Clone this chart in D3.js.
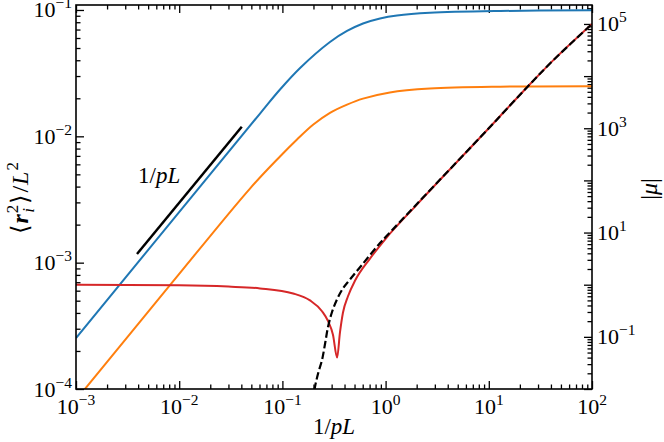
<!DOCTYPE html>
<html lang="en">
<head>
<meta charset="UTF-8">
<title>r_i^2 / L^2 and |mu| against 1/pL</title>
<script src="https://d3js.org/d3.v7.min.js"></script>
<style>
  body { margin: 0; background: #fff; }
  svg text { font-family: "Liberation Serif", "DejaVu Serif", serif; fill: #000; }
</style>
</head>
<body>
<div id="chart"></div>
<script>
// ticks
var xTicks = [1e-3, 1e-2, 1e-1, 1e0, 1e1, 1e2];
var leftTicks = [1e-4, 1e-3, 1e-2, 1e-1];
var rightTicks = [1e-2, 1e-1, 1e0, 1e1, 1e2, 1e3, 1e4, 1e5];
var rightLabelled = [1e-1, 1e1, 1e3, 1e5];

// <r_i^2>/L^2, left axis
var blueX = [0.001, 0.0607, 0.0948, 0.1484, 0.289, 0.423, 0.604, 0.883, 1.29, 2.69, 12.9, 100];
var blueY = [2.53e-4, 0.01515, 0.02347, 0.03475, 0.0558, 0.0682, 0.0782, 0.0857, 0.0905, 0.0950, 0.0982, 0.0995];
var orangeX = [0.001, 0.0081, 0.0485, 0.0948, 0.1385, 0.198, 0.289, 0.423, 0.604, 1.1, 2.69, 12.9, 100];
var orangeY = [8.2e-5, 6.6e-4, 0.00386, 0.00692, 0.00943, 0.01234, 0.01535, 0.01782, 0.01988, 0.02226, 0.02386, 0.0247, 0.0249];

// |mu|, right axis
var muX = [0.001, 0.01, 0.03, 0.0607, 0.127, 0.185, 0.242, 0.277, 0.309, 0.339, 0.361, 0.386, 0.432, 0.506, 0.7, 1.0, 2, 10, 24, 42, 100];
var muY = [1.0, 0.975, 0.92, 0.85, 0.68, 0.5, 0.31, 0.2, 0.11, 0.04, 0.12, 0.29, 0.6, 1.2, 3.1, 7.6, 34, 1000, 6400, 20000, 1e5];
var asymX = [0.198, 0.207, 0.222, 0.242, 0.26, 0.277, 0.301, 0.338, 0.386, 0.45, 0.6, 0.883, 1.0, 2, 10, 24, 42, 100];
var asymY = [0.006, 0.011, 0.02, 0.036, 0.077, 0.156, 0.29, 0.52, 0.85, 1.25, 2.5, 6.3, 8.2, 35, 1000, 6400, 20000, 1e5];

// 1/pL guide segment
var slopeX = [0.0039, 0.0404];
var slopeY = [0.00117, 0.0119];

var W = 664, H = 442;
// note: "top" is taken by window.top, so plain names for the frame edges
var x0 = 76, x1 = 592, y0 = 5, y1 = 389;

var svg = d3.select("#chart").append("svg").attr("width", W).attr("height", H);

var x = d3.scaleLog().domain([1e-3, 1e2]).range([x0, x1]);
var yL = d3.scaleLog().domain([1e-4, 0.1095]).range([y1, y0]);
var yR = d3.scaleLog().domain([0.01, 2.31e5]).range([y1, y0]);

function minors(scale) {
    var d = scale.domain(), out = [];
    var a = Math.floor(Math.log10(d[0])), b = Math.ceil(Math.log10(d[1]));
    for (var e = a; e < b; e++) {
        for (var k = 2; k < 10; k++) {
            var v = k * Math.pow(10, e);
            if (v > d[0] && v < d[1]) out.push(v);
        }
    }
    return out;
}

svg.append("clipPath").attr("id", "clip")
    .append("rect").attr("x", x0).attr("y", y0).attr("width", x1 - x0).attr("height", y1 - y0);

// inward ticks on all four sides
function tickAxis(axis, vals, len, tx) {
    var g = svg.append("g").attr("transform", tx)
        .call(axis.tickValues(vals).tickSize(-len).tickFormat(""));
    g.select(".domain").remove();
    g.selectAll("line").attr("stroke", "#000").attr("stroke-width", 1.3);
}
tickAxis(d3.axisBottom(x), xTicks, 8, "translate(0," + y1 + ")");
tickAxis(d3.axisBottom(x), minors(x), 4.5, "translate(0," + y1 + ")");
tickAxis(d3.axisTop(x), xTicks, 8, "translate(0," + y0 + ")");
tickAxis(d3.axisTop(x), minors(x), 4.5, "translate(0," + y0 + ")");
tickAxis(d3.axisLeft(yL), leftTicks, 8, "translate(" + x0 + ",0)");
tickAxis(d3.axisLeft(yL), minors(yL), 4.5, "translate(" + x0 + ",0)");
tickAxis(d3.axisRight(yR), rightTicks, 8, "translate(" + x1 + ",0)");
tickAxis(d3.axisRight(yR), minors(yR), 4.5, "translate(" + x1 + ",0)");

// curves
var plot = svg.append("g").attr("clip-path", "url(#clip)");
var smooth = d3.curveCatmullRom.alpha(0.5);

function draw(xs, ys, yScale, color, width, curve, dash) {
    var line = d3.line()
        .x(function(d) { return x(d[0]); })
        .y(function(d) { return yScale(d[1]); })
        .curve(curve);
    var p = plot.append("path")
        .datum(d3.zip(xs, ys))
        .attr("d", line)
        .attr("fill", "none")
        .attr("stroke", color)
        .attr("stroke-width", width);
    if (dash) p.attr("stroke-dasharray", dash);
}

draw(blueX, blueY, yL, "#1f77b4", 2, smooth);
draw(orangeX, orangeY, yL, "#ff7f0e", 2, smooth);
draw(muX, muY, yR, "#d62728", 2, d3.curveMonotoneX);
draw(asymX, asymY, yR, "#000", 2.2, smooth, "7.5,3.2");
draw(slopeX, slopeY, yL, "#000", 2.5, d3.curveLinear);

// frame
svg.append("rect")
    .attr("x", x0).attr("y", y0).attr("width", x1 - x0).attr("height", y1 - y0)
    .attr("fill", "none").attr("stroke", "#000").attr("stroke-width", 1.6);

// tick labels like 10^-3
function power(t, v) {
    var e = Math.round(Math.log10(v));
    t.append("tspan").text("10");
    t.append("tspan").attr("dy", -9).attr("font-size", 15.5).text(e < 0 ? "\u2212" + (-e) : e);
}

xTicks.forEach(function(v) {
    var t = svg.append("text").attr("x", x(v)).attr("y", 414)
        .attr("text-anchor", "middle").attr("font-size", 22);
    power(t, v);
});
leftTicks.forEach(function(v) {
    var t = svg.append("text").attr("x", 72).attr("y", yL(v) + 7.5)
        .attr("text-anchor", "end").attr("font-size", 22);
    power(t, v);
});
rightLabelled.forEach(function(v) {
    var t = svg.append("text").attr("x", 597).attr("y", yR(v) + 7.5)
        .attr("text-anchor", "start").attr("font-size", 22);
    power(t, v);
});

// axis titles
var xt = svg.append("text").attr("x", (x0 + x1) / 2).attr("y", 434)
    .attr("text-anchor", "middle").attr("font-size", 23);
xt.append("tspan").text("1/");
xt.append("tspan").attr("font-style", "italic").text("pL");

var yt = svg.append("text").attr("transform", "translate(28,198) rotate(-90)")
    .attr("text-anchor", "middle").attr("font-size", 24);
yt.append("tspan").text("\u27E8");
yt.append("tspan").attr("dx", 1).attr("font-style", "italic").attr("font-weight", "bold").text("r");
yt.append("tspan").attr("dx", 1).attr("dy", -10).attr("font-size", 17).text("2");
yt.append("tspan").attr("dx", -8).attr("dy", 16).attr("font-size", 17).attr("font-style", "italic").text("i");
yt.append("tspan").attr("dx", 4).attr("dy", -6).text("\u27E9");
yt.append("tspan").attr("dx", 2).text("/");
yt.append("tspan").attr("dx", 1).attr("font-style", "italic").text("L");
yt.append("tspan").attr("dx", 1).attr("dy", -10).attr("font-size", 17).text("2");

var rt = svg.append("text").attr("transform", "translate(657,189) rotate(-90)")
    .attr("text-anchor", "middle").attr("font-size", 24);
rt.append("tspan").text("|");
rt.append("tspan").attr("font-style", "italic").text("\u03BC");
rt.append("tspan").text("|");

// label for the guide segment
var st = svg.append("text").attr("x", 138).attr("y", 183).attr("font-size", 23);
st.append("tspan").text("1/");
st.append("tspan").attr("font-style", "italic").text("pL");
</script>
</body>
</html>
